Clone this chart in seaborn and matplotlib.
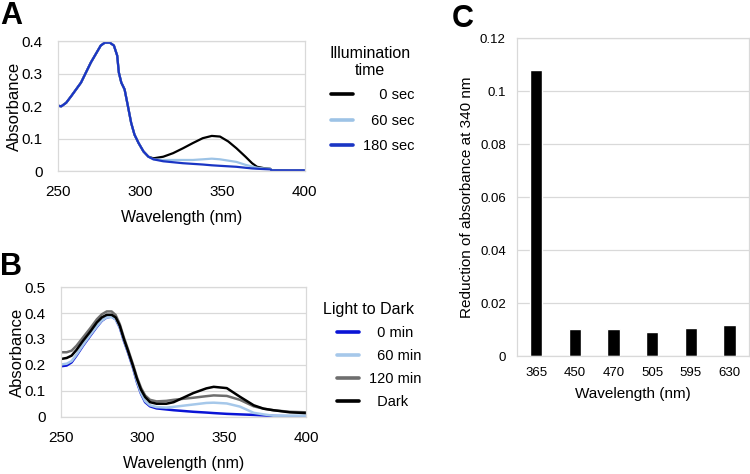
import matplotlib
matplotlib.use('Agg')
import matplotlib.pyplot as plt
import seaborn as sns
import pandas as pd

# panel A: absorbance spectra after illumination
wlA = [250, 252, 255, 258, 261, 264, 267, 270, 273, 276, 278.5, 281.5, 284, 286, 287,
       288.5, 290.5, 292.5, 294.5, 296.5, 299, 302, 305, 308, 314, 320, 326, 332, 338,
       343.5, 348.5, 353.5, 358.5, 364, 368, 371, 375, 379, 380, 390, 400]
a_180 = [0.201, 0.199, 0.210, 0.230, 0.251, 0.272, 0.303, 0.334, 0.360, 0.386, 0.395,
         0.395, 0.386, 0.355, 0.303, 0.272, 0.251, 0.200, 0.148, 0.112, 0.086, 0.060,
         0.044, 0.036, 0.030, 0.027, 0.024, 0.022, 0.020, 0.0176, 0.016, 0.0145, 0.013,
         0.010, 0.008, 0.007, 0.006, 0.005, 0.002, 0.002, 0.002]
a_0 = a_180[:23] + [0.039, 0.044, 0.055, 0.070, 0.086, 0.101, 0.108, 0.106, 0.091,
                    0.070, 0.044, 0.024, 0.013, 0.009, 0.007, 0.002, 0.001, 0.001]
a_60 = a_180[:23] + [0.036, 0.034, 0.034, 0.034, 0.034, 0.036, 0.038, 0.036, 0.032,
                     0.028, 0.019, 0.014, 0.010, 0.008, 0.007, 0.002, 0.001, 0.001]
labelsA = ['\u2007\u20070 sec', '\u200760 sec', '180 sec']

# panel B: light to dark recovery
wlB = [250, 253.5, 256.5, 259.5, 263.5, 268, 272, 275, 278, 281, 283.5, 286, 288.5,
       291, 294, 296.5, 299, 301.5, 304.5, 308.5, 314.5, 319, 331, 339, 343.5, 351.5,
       359.5, 368, 374, 380, 390, 400]
b_0 = [0.195, 0.198, 0.210, 0.236, 0.274, 0.313, 0.347, 0.370, 0.383, 0.386, 0.376,
       0.344, 0.293, 0.249, 0.191, 0.134, 0.089, 0.057, 0.041, 0.033, 0.029, 0.026,
       0.020, 0.017, 0.015, 0.012, 0.010, 0.008, 0.006, 0.004, 0.003, 0.003]
b_60 = [0.202, 0.205, 0.215, 0.240, 0.277, 0.316, 0.349, 0.371, 0.383, 0.385, 0.376,
        0.345, 0.295, 0.251, 0.193, 0.137, 0.092, 0.061, 0.045, 0.038, 0.036, 0.039,
        0.048, 0.054, 0.055, 0.052, 0.040, 0.016, 0.010, 0.005, 0.005, 0.005]
b_120 = [0.249, 0.249, 0.255, 0.274, 0.306, 0.342, 0.376, 0.395, 0.406, 0.406, 0.392,
         0.357, 0.306, 0.261, 0.204, 0.153, 0.112, 0.083, 0.066, 0.060, 0.062, 0.066,
         0.074, 0.080, 0.083, 0.081, 0.066, 0.041, 0.032, 0.026, 0.020, 0.018]
b_dark = [0.223, 0.227, 0.236, 0.258, 0.293, 0.329, 0.364, 0.383, 0.393, 0.393, 0.383,
          0.351, 0.300, 0.255, 0.198, 0.147, 0.105, 0.077, 0.057, 0.051, 0.051, 0.057,
          0.092, 0.110, 0.116, 0.111, 0.078, 0.045, 0.032, 0.026, 0.018, 0.015]
labelsB = ['\u20070 min', '\u200760 min', '120 min', '\u2007Dark']

# panel C: reduction at 340 nm per light wavelength
wlC = ['365', '450', '470', '505', '595', '630']
reduction = [0.108, 0.0101, 0.0101, 0.009, 0.0105, 0.0117]

sns.set_style('white')
plt.rcParams['font.family'] = ['Liberation Sans', 'DejaVu Sans']
plt.rcParams['text.color'] = 'black'
plt.rcParams['axes.labelcolor'] = 'black'
plt.rcParams['xtick.color'] = 'black'
plt.rcParams['ytick.color'] = 'black'

fig = plt.figure(figsize=(7.5, 4.74), dpi=100)
axA = fig.add_axes([0.0773, 0.6392, 0.329, 0.2743])
axB = fig.add_axes([0.0813, 0.1203, 0.3267, 0.2742])
axC = fig.add_axes([0.6893, 0.2489, 0.3093, 0.6709])

dfA = pd.DataFrame({'wl': wlA * 3, 'abs': a_0 + a_60 + a_180,
                    'series': sum([[l] * len(wlA) for l in labelsA], [])})
dfB = pd.DataFrame({'wl': wlB * 4, 'abs': b_0 + b_60 + b_120 + b_dark,
                    'series': sum([[l] * len(wlB) for l in labelsB], [])})

sns.lineplot(data=dfA, x='wl', y='abs', hue='series', ax=axA, lw=1.6,
             palette=['black', '#9dc3e6', '#1a35c4'])
sns.lineplot(data=dfB, x='wl', y='abs', hue='series', ax=axB, lw=1.8,
             palette=['#0a14d6', '#a6c8ea', '#6e6e6e', 'black'])
sns.barplot(x=wlC, y=reduction, ax=axC, color='black', width=0.32)

def style(ax, fs, xpad, ypad):
    for s in ax.spines.values():
        s.set_color('#d9d9d9')
        s.set_linewidth(0.9)
    ax.grid(axis='y', color='#d9d9d9', lw=0.9)
    ax.set_axisbelow(True)
    ax.tick_params(length=0, labelsize=fs)
    ax.tick_params(axis='x', pad=xpad)
    ax.tick_params(axis='y', pad=ypad)

for ax, top, ticks in [(axA, 0.4, [0, 0.1, 0.2, 0.3, 0.4]),
                       (axB, 0.5, [0, 0.1, 0.2, 0.3, 0.4, 0.5])]:
    style(ax, 11, 10, 11)
    ax.set_xlim(250, 400)
    ax.set_xticks([250, 300, 350, 400])
    ax.set_ylim(0, top)
    ax.set_yticks(ticks)
    ax.set_yticklabels(['0'] + [f'{t:g}' for t in ticks[1:]])
    ax.set_xlabel('Wavelength (nm)', fontsize=11.5, labelpad=8)
    ax.set_ylabel('Absorbance', fontsize=12, labelpad=0)

style(axC, 9.5, 8, 8)
axC.set_xlim(-0.5, 5.5)
axC.set_ylim(0, 0.12)
axC.set_yticks([0, 0.02, 0.04, 0.06, 0.08, 0.1, 0.12])
axC.set_yticklabels(['0', '0.02', '0.04', '0.06', '0.08', '0.1', '0.12'])
axC.set_xlabel('Wavelength (nm)', fontsize=11, labelpad=6)
axC.set_ylabel('Reduction of absorbance at 340 nm', fontsize=11, labelpad=4)

hA, lA = axA.get_legend_handles_labels()
for h in hA:
    h.set_linewidth(2.6)
axA.legend(hA, lA, loc='upper left', bbox_to_anchor=(0.424, 0.842),
           bbox_transform=fig.transFigure, frameon=False, fontsize=10.5,
           handlelength=1.5, labelspacing=0.8, handletextpad=0.7)
fig.text(0.493, 0.869, 'Illumination\ntime', ha='center', va='center',
         fontsize=11.5, linespacing=1.15)

hB, lB = axB.get_legend_handles_labels()
for h in hB:
    h.set_linewidth(2.6)
axB.legend(hB, lB, loc='upper left', bbox_to_anchor=(0.432, 0.340),
           bbox_transform=fig.transFigure, frameon=False, fontsize=10.5,
           handlelength=1.5, labelspacing=0.62, handletextpad=0.7)
fig.text(0.4907, 0.346, 'Light to Dark', ha='center', va='center', fontsize=11.5)

fig.text(0.0, 0.997, 'A', fontsize=22, fontweight='bold', va='top')
fig.text(0.0, 0.4694, 'B', fontsize=22, fontweight='bold', va='top')
fig.text(0.6027, 0.9926, 'C', fontsize=22, fontweight='bold', va='top')

fig.savefig('out.png', dpi=100)
